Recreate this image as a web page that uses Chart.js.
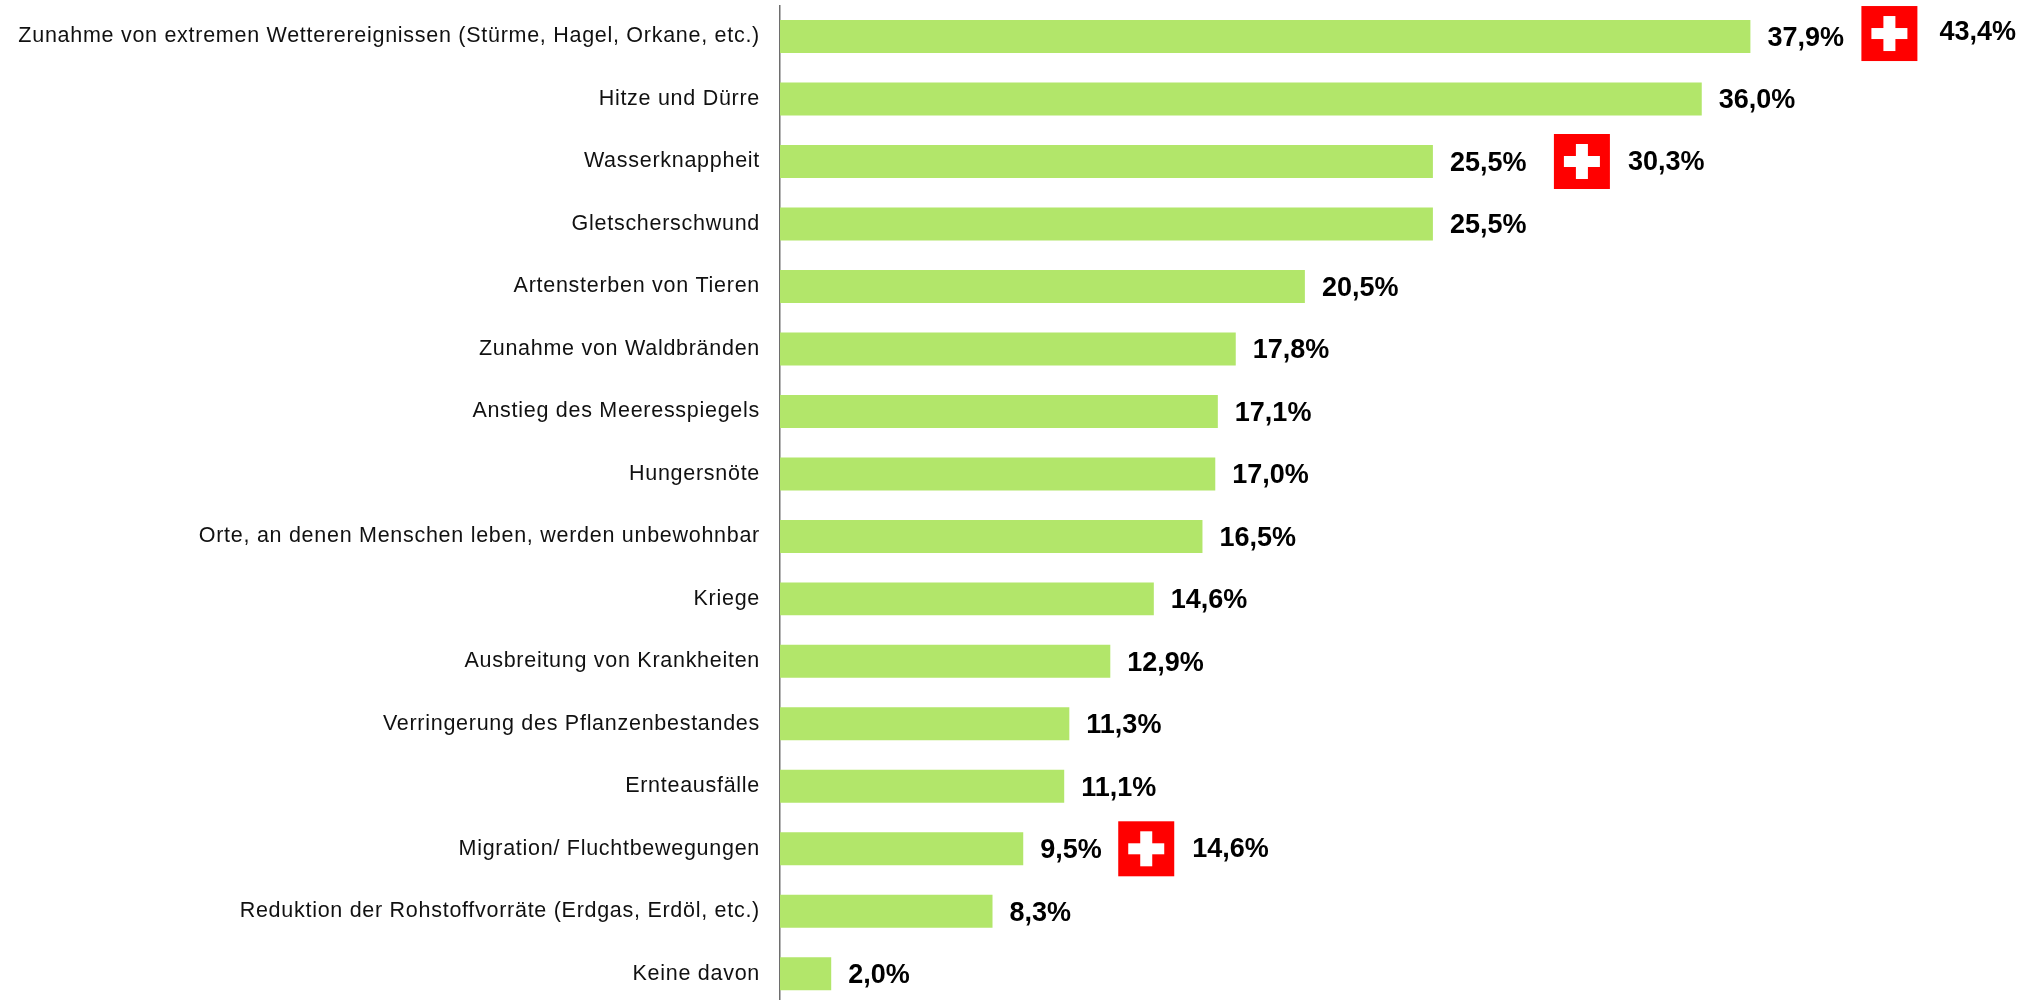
<!DOCTYPE html>
<html lang="de">
<head>
<meta charset="utf-8">
<title>Klimawandel Folgen</title>
<script src="https://cdn.jsdelivr.net/npm/chart.js@4"></script>
<style>
  html, body { margin: 0; padding: 0; background: #fff; overflow: hidden; width: 2033px; height: 1000px; }
  canvas { display: block; }
</style>
</head>
<body>
<canvas id="chart" width="2033" height="1005"></canvas>
<script>
const CATEGORIES = [
  "Zunahme von extremen Wetterereignissen (Stürme, Hagel, Orkane, etc.)",
  "Hitze und Dürre",
  "Wasserknappheit",
  "Gletscherschwund",
  "Artensterben von Tieren",
  "Zunahme von Waldbränden",
  "Anstieg des Meeresspiegels",
  "Hungersnöte",
  "Orte, an denen Menschen leben, werden unbewohnbar",
  "Kriege",
  "Ausbreitung von Krankheiten",
  "Verringerung des Pflanzenbestandes",
  "Ernteausfälle",
  "Migration/ Fluchtbewegungen",
  "Reduktion der Rohstoffvorräte (Erdgas, Erdöl, etc.)",
  "Keine davon",
];
const VALUES = [37.9, 36.0, 25.5, 25.5, 20.5, 17.8, 17.1, 17.0, 16.5, 14.6, 12.9, 11.3, 11.1, 9.5, 8.3, 2.0];
const SWISS_ROWS = [0, 2, 13];
const SWISS_VALUES = [43.4, 30.3, 14.6];

const FONT = '"Liberation Sans", Arial, sans-serif';
const fmt = (v) => v.toFixed(1).replace(".", ",") + "%";

// werte neben den balken + schweizer fahne
const FLAG_STYLE = [
  { gap: 111, dy: -3, textGap: 22, textDy: -5 },
  { gap: 121, dy: 0, textGap: 18, textDy: 0 },
  { gap: 95, dy: 0, textGap: 18, textDy: 0 },
];

function drawFlag(ctx, x, cy) {
  const w = 56, h = 55;
  const top = cy - h / 2;
  ctx.fillStyle = "#ff0000";
  ctx.fillRect(x, top, w, h);
  ctx.fillStyle = "#ffffff";
  ctx.fillRect(x + 10, top + 22, 36, 11);
  ctx.fillRect(x + 22, top + 10, 12, 35);
}

const valueLabels = {
  id: "valueLabels",
  beforeDraw(chart) {
    chart.ctx.letterSpacing = "0.72px";
  },
  afterDatasetsDraw(chart) {
    const { ctx, scales: { x, y } } = chart;
    ctx.save();
    ctx.letterSpacing = "0px";
    ctx.font = "bold 27px " + FONT;
    ctx.fillStyle = "#000";
    ctx.textBaseline = "middle";
    ctx.textAlign = "left";
    VALUES.forEach((v, i) => {
      ctx.fillText(fmt(v), x.getPixelForValue(v) + 17, y.getPixelForValue(i) + 2);
    });
    SWISS_ROWS.forEach((row, k) => {
      const s = FLAG_STYLE[k];
      const left = x.getPixelForValue(VALUES[row]) + s.gap;
      const cy = y.getPixelForValue(row);
      drawFlag(ctx, left, cy + s.dy);
      ctx.fillStyle = "#000";
      ctx.fillText(fmt(SWISS_VALUES[k]), left + 56 + s.textGap, cy + 1 + s.textDy);
    });
    ctx.restore();
  },
};

new Chart(document.getElementById("chart"), {
  type: "bar",
  data: {
    labels: CATEGORIES,
    datasets: [{
      data: VALUES,
      backgroundColor: "#b2e66a",
      borderWidth: 0,
      barPercentage: 0.528,
      categoryPercentage: 1,
    }],
  },
  options: {
    indexAxis: "y",
    responsive: false,
    animation: false,
    layout: { padding: { top: 5.3, right: 24 } },
    plugins: { legend: { display: false }, tooltip: { enabled: false } },
    scales: {
      x: { display: false, min: 0, max: 48 },
      y: {
        afterFit(scale) {
          scale.width = 780;
          scale.paddingTop = 0;
          scale.paddingBottom = 0;
        },
        grid: { display: false, drawTicks: false },
        border: { display: true, color: "#6e6e6e", width: 1.5 },
        ticks: {
          autoSkip: false,
          padding: 20,
          color: "#111",
          font: { family: FONT, size: 21.5 },
        },
      },
    },
  },
  plugins: [valueLabels],
});
</script>
</body>
</html>
